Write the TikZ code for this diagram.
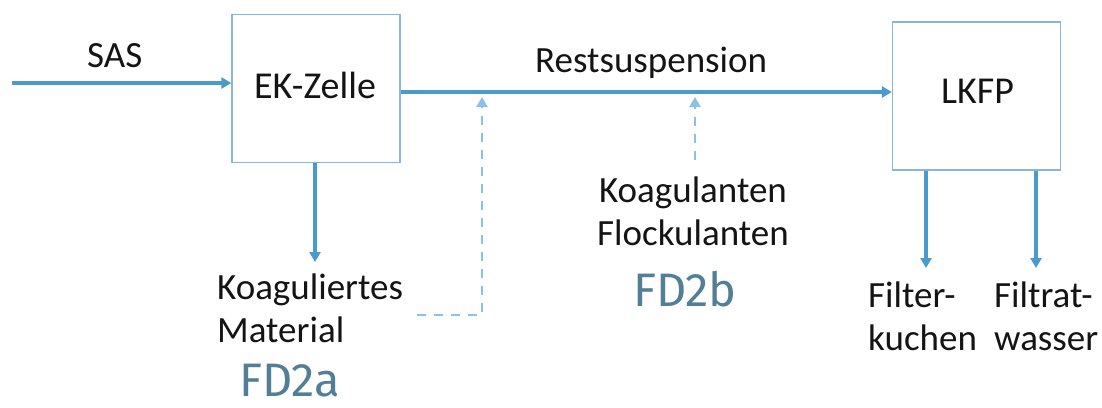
\documentclass[tikz,border=0pt]{standalone}
\usepackage{fontspec}
\setmainfont{Carlito}
\newfontfamily\fdfont{Fira Sans}
\usetikzlibrary{arrows.meta}
\definecolor{flow}{HTML}{4A9ACB}
\definecolor{boxline}{HTML}{86B6DA}
\definecolor{dash}{HTML}{8CC0E4}
\definecolor{fdcol}{HTML}{527F96}
\definecolor{txt}{HTML}{141414}
\tikzset{
  unit/.style={draw=boxline, line width=1.3pt, minimum width=168pt, minimum height=148pt, inner sep=0pt},
  boxtxt/.style={font=\fontsize{38}{40}\selectfont, text=txt, inner sep=0pt, anchor=base west},
  lbl/.style={font=\fontsize{37}{43}\selectfont, text=txt, inner sep=0pt},
  fdl/.style={font=\fdfont\fontsize{47}{50}\selectfont, text=fdcol, inner sep=0pt, anchor=base west},
  flowarr/.style={draw=flow, line width=3.2pt, -{Triangle[width=11pt,length=10pt]}},
  dasharr/.style={draw=dash, line width=2.6pt, dash pattern=on 9pt off 8pt, -{Triangle[width=11pt,length=10pt]}},
}
\begin{document}
\begin{tikzpicture}[x=1pt,y=-1pt]
\useasboundingbox (0,0) rectangle (1102,407);
\node[unit] (ek) at (316,88.5) {};
\node[boxtxt] (ekt) at (254,98) {EK-Zelle};
\node[unit] (lk) at (976.5,96) {};
\node[boxtxt] (lkt) at (941,103) {LKFP};
\coordinate (in) at (12,83);
\node[lbl, anchor=base west] (sas) at (87,67) {SAS};
\node[lbl, anchor=base west] (rest) at (535,72) {Restsuspension};
\draw[flowarr] (in) -- (in -| ek.west);
\draw[flowarr] (ek.east |- 0,92) -- (lk.west |- 0,92);
\coordinate (ekd) at (315,262);
\draw[flowarr] (ek.south -| ekd) -- (ekd);
\node[lbl, align=left, anchor=north west] (koag) at (217,274) {Koaguliertes\\Material};
\node[fdl] (fda) at (239,396) {FD2a};
\coordinate (d1s) at (417,315);
\coordinate (d1c) at (482,315);
\coordinate (d1e) at (482,97);
\draw[dasharr] (d1s) -- (d1c) -- (d1e);
\coordinate (d2s) at (695,160);
\coordinate (d2e) at (695,97);
\draw[dasharr] (d2s) -- (d2e);
\node[lbl, align=center, anchor=north] (flock) at (693,177) {Koagulanten\\Flockulanten};
\node[fdl] (fdb) at (633,306) {FD2b};
\coordinate (f1) at (926,268);
\coordinate (f2) at (1036,268);
\draw[flowarr] (lk.south -| f1) -- (f1);
\draw[flowarr] (lk.south -| f2) -- (f2);
\node[lbl, align=left, anchor=north west] (fk) at (868,282) {Filter-\\kuchen};
\node[lbl, align=left, anchor=north west] (fw) at (994,282) {Filtrat-\\wasser};
\end{tikzpicture}
\end{document}
